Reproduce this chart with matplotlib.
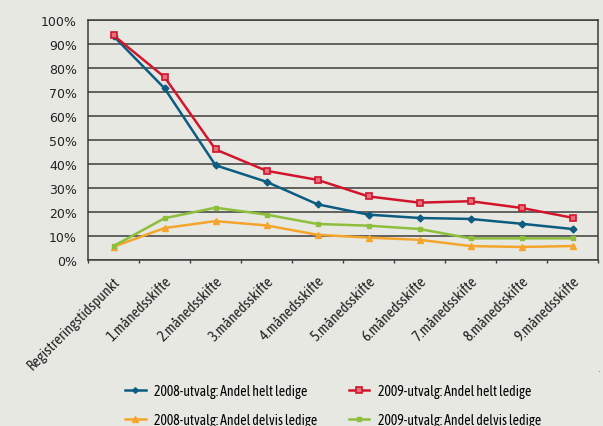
import matplotlib
matplotlib.use("Agg")
import matplotlib.pyplot as plt
from matplotlib import font_manager
from matplotlib.ticker import MultipleLocator, FixedLocator, PercentFormatter

categories = ["Registreringstidspunkt", "1.månedsskifte", "2.månedsskifte", "3.månedsskifte",
              "4.månedsskifte", "5.månedsskifte", "6.månedsskifte", "7.månedsskifte",
              "8.månedsskifte", "9.månedsskifte"]
helt_2008 = [93.3, 71.5, 39.4, 32.5, 23.1, 18.8, 17.4, 17.0, 15.0, 12.8]
helt_2009 = [93.6, 76.2, 46.0, 37.1, 33.3, 26.4, 23.8, 24.4, 21.6, 17.5]
delvis_2008 = [5.4, 13.2, 16.1, 14.3, 10.4, 9.2, 8.3, 5.7, 5.3, 5.7]
delvis_2009 = [5.7, 17.3, 21.7, 18.8, 14.9, 14.2, 12.8, 8.9, 8.9, 8.9]
labels = ["2008-utvalg: Andel helt ledige", "2009-utvalg: Andel helt ledige",
          "2008-utvalg: Andel delvis ledige", "2009-utvalg: Andel delvis ledige"]

BG = "#E8E8E3"
BLUE = "#0B5C80"
RED = "#D2152C"
ORANGE = "#F4A52E"
GREEN = "#8DBE3C"

files = [f.fname for f in font_manager.fontManager.ttflist]
narrow_path = None
for pref in ["AsapCondensed-Regular.ttf", "BarlowSemiCondensed-Regular.ttf", "ArchivoNarrow"]:
    for fn in files:
        if pref in fn.split("/")[-1] and "Italic" not in fn:
            narrow_path = fn
            break
    if narrow_path:
        break

def nprop(size):
    if narrow_path:
        return font_manager.FontProperties(fname=narrow_path, size=size)
    return font_manager.FontProperties(family="Roboto", size=size * 0.9)

fig = plt.figure(figsize=(6.03, 4.27), dpi=100, facecolor=BG)
ax = fig.add_axes([88/603, 1-260.7/427, 510/603, 239.7/427])
ax.set_facecolor(BG)

x = list(range(len(categories)))
l1, = ax.plot(x, helt_2008, color=BLUE, lw=1.8, marker="D", ms=3.5, mfc=BLUE, mec=BLUE)
l2, = ax.plot(x, helt_2009, color=RED, lw=1.8, marker="s", ms=5, mfc="#E6707C", mec=RED, mew=1.2)
l3, = ax.plot(x, delvis_2008, color=ORANGE, lw=1.8, marker="^", ms=5, mfc=ORANGE, mec=ORANGE)
l4, = ax.plot(x, delvis_2009, color=GREEN, lw=1.8, marker="s", ms=3.5, mfc=GREEN, mec=GREEN)

ax.set_xlim(-0.5, len(categories)-0.5)
ax.set_ylim(0, 100)
ax.yaxis.set_major_locator(MultipleLocator(10))
ax.yaxis.set_major_formatter(PercentFormatter(decimals=0))
ax.yaxis.grid(True, color="#3C3C3C", lw=1.1)
ax.set_axisbelow(True)
for s in ["left", "right", "top", "bottom"]:
    ax.spines[s].set_color("#3C3C3C")
    ax.spines[s].set_linewidth(1.1)
ax.tick_params(axis="y", length=0, pad=8, labelsize=9, labelcolor="#222222")

ax.set_xticks(x)
ax.set_xticklabels(categories, rotation=45, ha="right", rotation_mode="anchor",
                   fontproperties=nprop(10.7), color="#222222")
ax.xaxis.set_minor_locator(FixedLocator([i - 0.5 for i in range(len(categories)+1)]))
ax.tick_params(axis="x", which="major", length=0, pad=10)
ax.tick_params(axis="x", which="minor", length=2.5, width=1, color="#3C3C3C", direction="out")

fig.legend([l1, l3, l2, l4], [labels[0], labels[2], labels[1], labels[3]],
           ncol=2, loc="upper left", bbox_to_anchor=(125/603, 1-385/427),
           frameon=False, prop=nprop(10),
           handlelength=1.5, handletextpad=0.6, columnspacing=2.25,
           labelspacing=1.1, borderpad=0, borderaxespad=0, markerscale=0.8)

fig.text(597/603, 1-372/427, ".", fontsize=6, color="#444444")

fig.savefig("out.png", dpi=100, facecolor=BG)
